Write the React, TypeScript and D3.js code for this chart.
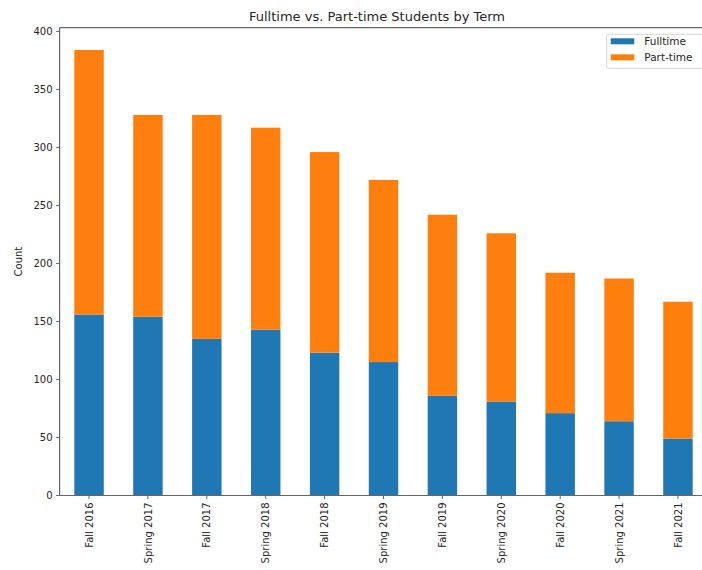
import React from "react";
import * as d3 from "d3";

const terms = [
  "Fall 2016", "Spring 2017", "Fall 2017", "Spring 2018", "Fall 2018", "Spring 2019",
  "Fall 2019", "Spring 2020", "Fall 2020", "Spring 2021", "Fall 2021",
];
const fulltime = [156, 154, 135, 143, 123, 115, 86, 81, 71, 64, 49];
const parttime = [228, 174, 193, 174, 173, 157, 156, 145, 121, 123, 118];
const yTicks = [0, 50, 100, 150, 200, 250, 300, 350, 400];
const seriesNames = ["Fulltime", "Part-time"];
const colors = ["#1f77b4", "#ff7f0e"];

const W = 702, H = 570;
const left = 59.6, right = 707.4, top = 27.7, bottom = 495.5;
const font = "DejaVu Sans, sans-serif";

export default function App() {
  const totals = terms.map((_, i) => fulltime[i] + parttime[i]);
  const ymax = (d3.max(totals) as number) * 1.05;
  const y = d3.scaleLinear().domain([0, ymax]).range([bottom, top]);
  const x = d3.scaleLinear().domain([-0.5, terms.length - 0.5]).range([left, right]);
  const bw = x(0.25) - x(0);
  const stack = terms.map((_, i) => [
    { y0: 0, y1: fulltime[i] },
    { y0: fulltime[i], y1: fulltime[i] + parttime[i] },
  ]);
  const axisColor = "#666";
  const textColor = "#262626";
  return (
    <svg width={W} height={H} style={{ position: "absolute", left: 0, top: 0, background: "#fff" }}>
      {stack.map((segs, i) =>
        segs.map((s, k) => (
          <rect key={`${i}-${k}`} x={x(i) - bw} width={bw * 2} y={y(s.y1)} height={y(s.y0) - y(s.y1)} fill={colors[k]} />
        ))
      )}
      {/* spines */}
      <line x1={left} x2={left} y1={top} y2={bottom} stroke={axisColor} strokeWidth={1.2} />
      <line x1={left} x2={right} y1={bottom} y2={bottom} stroke={axisColor} strokeWidth={1.2} />
      <line x1={left} x2={right} y1={top} y2={top} stroke={axisColor} strokeWidth={1.2} />
      <line x1={right} x2={right} y1={top} y2={bottom} stroke={axisColor} strokeWidth={1.2} />
      {yTicks.map((t) => (
        <g key={t}>
          <line x1={left - 3.5} x2={left} y1={y(t)} y2={y(t)} stroke={axisColor} strokeWidth={1} />
          <text x={left - 7} y={y(t)} dy="0.36em" textAnchor="end" fontFamily={font} fontSize={10} fill={textColor}>
            {t}
          </text>
        </g>
      ))}
      {terms.map((t, i) => (
        <g key={t}>
          <line x1={x(i)} x2={x(i)} y1={bottom} y2={bottom + 3.5} stroke={axisColor} strokeWidth={1} />
          <text
            transform={`translate(${x(i)},${bottom + 7}) rotate(-90)`}
            dy="0.36em"
            textAnchor="end"
            fontFamily={font}
            fontSize={10}
            fill={textColor}
          >
            {t}
          </text>
        </g>
      ))}
      <text
        transform={`translate(${18},${(top + bottom) / 2}) rotate(-90)`}
        dy="0.36em"
        textAnchor="middle"
        fontFamily={font}
        fontSize={10}
        fill={textColor}
      >
        Count
      </text>
      <text x={377} y={21} textAnchor="middle" fontFamily={font} fontSize={13} fill={textColor}>
        Fulltime vs. Part-time Students by Term
      </text>
      <g>
        <rect x={606.7} y={34.3} width={101} height={34} rx={2} fill="#fff" fillOpacity={0.8} stroke="#d6d6d6" strokeWidth={1} />
        {seriesNames.map((n, k) => (
          <g key={n}>
            <rect x={610.7} y={38.3 + k * 16} width={23.6} height={6} fill={colors[k]} />
            <text x={644.3} y={41.3 + k * 16} dy="0.36em" fontFamily={font} fontSize={10.5} fill={textColor}>
              {n}
            </text>
          </g>
        ))}
      </g>
    </svg>
  );
}
